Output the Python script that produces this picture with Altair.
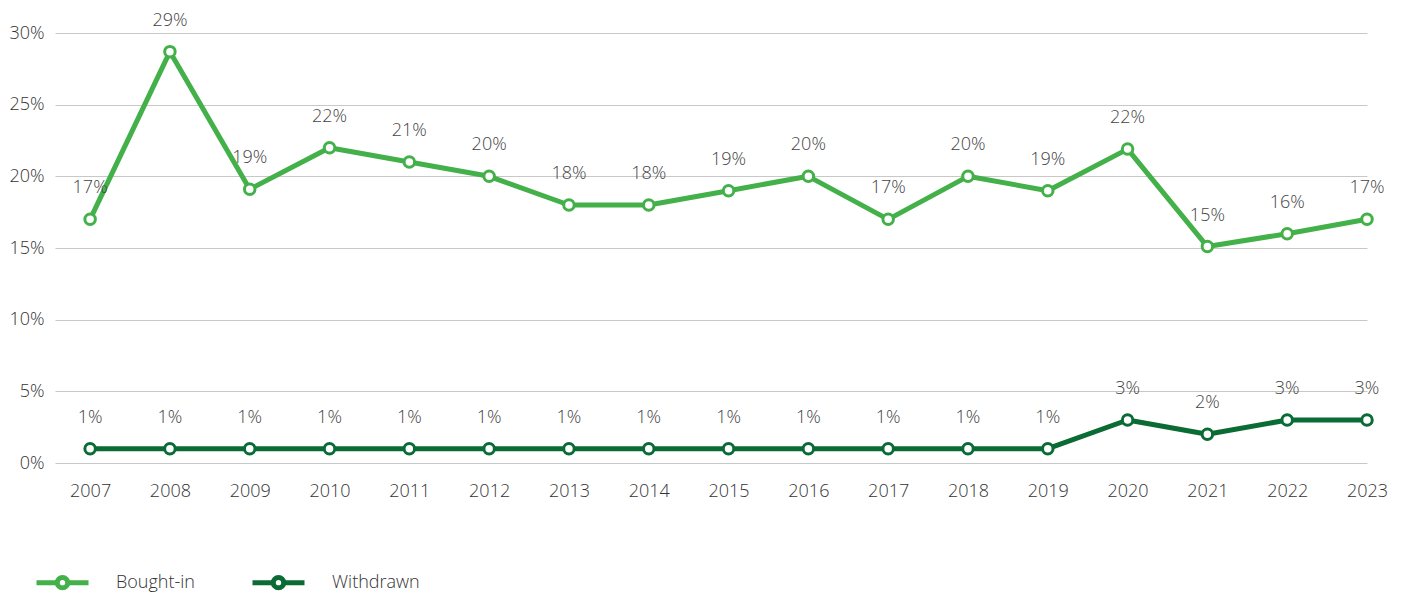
import altair as alt
import pandas as pd

years = [2007, 2008, 2009, 2010, 2011, 2012, 2013, 2014, 2015, 2016, 2017, 2018, 2019, 2020, 2021, 2022, 2023]
bought_in = [17, 28.7, 19.1, 22, 21, 20, 18, 18, 19, 20, 17, 20, 19, 21.9, 15.1, 16, 17]
withdrawn = [1, 1, 1, 1, 1, 1, 1, 1, 1, 1, 1, 1, 1, 3, 2, 3, 3]
series_names = ["Bought-in", "Withdrawn"]
series_colors = ["#43b049", "#0b6b35"]
y_ticks = [0, 5, 10, 15, 20, 25, 30]

rows = []
for name, vals in zip(series_names, [bought_in, withdrawn]):
    for yr, v in zip(years, vals):
        rows.append({"year": yr, "value": v, "series": name, "label": f"{round(v)}%"})
df = pd.DataFrame(rows)

FONT = "Open Sans"
FS = 18
legend_path = ("M-1,0H-0.2M0.2,0H1M0.2,0A0.2,0.2,0,1,1,-0.2,0"
               "A0.2,0.2,0,1,1,0.2,0Z")

color = alt.Color(
    "series:N",
    scale=alt.Scale(domain=series_names, range=series_colors),
    legend=alt.Legend(
        title=None, orient="none", direction="horizontal",
        legendX=-21, legendY=521,
        symbolType=legend_path, symbolSize=2704, symbolStrokeWidth=5,
        symbolFillColor="white", symbolOpacity=1,
        labelFont=FONT, labelFontSize=FS, labelFontWeight=300, labelColor="#333333",
        labelOffset=25, columnPadding=47, labelLimit=200, padding=0,
    ),
)

x = alt.X(
    "year:Q",
    scale=alt.Scale(domain=[2006.56, 2023], nice=False, zero=False),
    axis=alt.Axis(values=years, format="d", grid=False, domain=False, ticks=False,
                  labelPadding=19, labelFont=FONT, labelFontSize=FS, labelFontWeight=300,
                  labelColor="#333333", title=None, labelOverlap=False,
                  labelFlush=False, labelBound=False),
)
y = alt.Y(
    "value:Q",
    scale=alt.Scale(domain=[0, 30], nice=False),
    axis=alt.Axis(values=y_ticks, labelExpr="datum.value + '%'", domain=False,
                  ticks=False, grid=True, gridColor="#c8c8c8", gridWidth=1,
                  labelPadding=11, labelFont=FONT, labelFontSize=FS, labelFontWeight=300,
                  labelColor="#333333", title=None),
)

base = alt.Chart(df).encode(x=x, y=y, color=color)

lines = base.mark_line(strokeWidth=5, strokeJoin="round")
points = base.mark_point(shape="circle", fill="white", fillOpacity=1, opacity=1,
                         strokeWidth=3, size=110)
labels = base.mark_text(dy=-31, font=FONT, fontSize=FS, fontWeight=300, color="#444444",
                        baseline="middle").encode(
    text="label:N", color=alt.value("#444444"))

chart = alt.layer(lines, points, labels).properties(
    width=1312, height=430,
    autosize=alt.AutoSizeParams(type="none"),
    padding={"left": 47, "top": 25, "right": 27, "bottom": 133},
).configure(font=FONT).configure_view(strokeWidth=0, stroke=None)

chart.save("out.html", embed_options={"renderer": "svg", "actions": False})
